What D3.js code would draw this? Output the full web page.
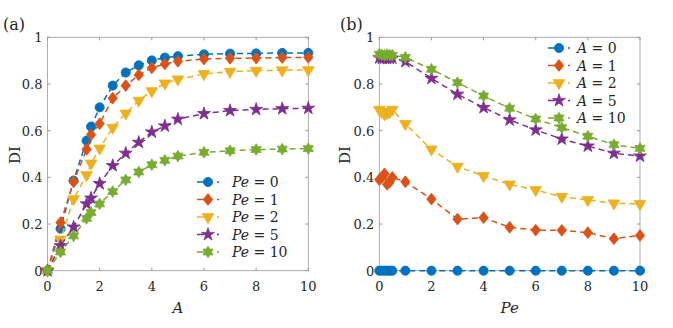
<!DOCTYPE html>
<html>
<head>
<meta charset="utf-8">
<script src="https://cdn.jsdelivr.net/npm/d3@7"></script>
<style>
  body { margin: 0; background: #fff; }
  text { font-family: "DejaVu Serif", serif; fill: #262626; }
</style>
</head>
<body>
<svg id="chart" width="673" height="328"></svg>
<script>
// ---- data ----
const aX = [0, 0.5, 1, 1.5, 1.67, 2, 2.5, 3, 3.5, 4, 4.5, 5, 6, 7, 8, 9, 10];
const diPe0  = [0, 0.18, 0.386, 0.557, 0.617, 0.70, 0.793, 0.849, 0.88, 0.901, 0.913, 0.919, 0.927, 0.93, 0.931, 0.933, 0.933];
const diPe1  = [0, 0.206, 0.381, 0.52, 0.583, 0.63, 0.739, 0.793, 0.839, 0.869, 0.886, 0.897, 0.907, 0.91, 0.911, 0.913, 0.914];
const diPe2  = [0, 0.134, 0.307, 0.41, 0.46, 0.524, 0.613, 0.674, 0.729, 0.77, 0.803, 0.82, 0.843, 0.853, 0.857, 0.859, 0.86];
const diPe5  = [0, 0.107, 0.187, 0.286, 0.311, 0.373, 0.45, 0.503, 0.55, 0.594, 0.62, 0.649, 0.673, 0.686, 0.691, 0.694, 0.696];
const diPe10 = [0, 0.08, 0.149, 0.224, 0.249, 0.286, 0.339, 0.389, 0.423, 0.454, 0.473, 0.491, 0.507, 0.514, 0.519, 0.521, 0.523];

const peX = [0, 0.1, 0.2, 0.3, 0.4, 0.5, 1, 2, 3, 4, 5, 6, 7, 8, 9, 10];
const diA0  = [0, 0, 0, 0, 0, 0, 0, 0, 0, 0, 0, 0, 0, 0, 0, 0];
const diA1  = [0.39, 0.40, 0.415, 0.37, 0.38, 0.40, 0.381, 0.307, 0.221, 0.227, 0.186, 0.174, 0.173, 0.163, 0.137, 0.151];
const diA2  = [0.69, 0.68, 0.67, 0.675, 0.68, 0.69, 0.629, 0.52, 0.446, 0.406, 0.37, 0.346, 0.317, 0.303, 0.289, 0.286];
const diA5  = [0.912, 0.91, 0.911, 0.909, 0.91, 0.911, 0.896, 0.824, 0.756, 0.699, 0.646, 0.603, 0.564, 0.534, 0.503, 0.491];
const diA10 = [0.928, 0.925, 0.923, 0.926, 0.924, 0.923, 0.914, 0.863, 0.806, 0.749, 0.696, 0.65, 0.613, 0.576, 0.54, 0.524];

const labelsA = ["0", "1", "2", "5", "10"];   // legend values, panel (b)
const labelsPe = ["0", "1", "2", "5", "10"];  // legend values, panel (a)
const xTicks = [0, 2, 4, 6, 8, 10];
const yTicks = [0, 0.2, 0.4, 0.6, 0.8, 1];

// MATLAB default colours
const colors = ["#0072BD", "#D95319", "#EDB120", "#7E2F8E", "#77AC30"];

// six pointed star, like MATLAB's hexagram
const symbolHexagram = {
  draw(context, size) {
    var r = Math.sqrt(size) * 0.66, ri = r / Math.sqrt(3);
    for (var k = 0; k < 12; k++) {
      var ang = -Math.PI / 2 + k * Math.PI / 6;
      var rr = (k % 2 == 0) ? r : ri;
      var px = rr * Math.cos(ang), py = rr * Math.sin(ang);
      if (k == 0) context.moveTo(px, py); else context.lineTo(px, py);
    }
    context.closePath();
  }
};
// MATLAB diamond is only a little taller than wide
const symbolDiamond2 = {
  draw(context, size) {
    var w = Math.sqrt(size) * 0.6, h = w * 1.25;
    context.moveTo(0, -h); context.lineTo(w, 0); context.lineTo(0, h); context.lineTo(-w, 0);
    context.closePath();
  }
};
const markers = [
  { type: d3.symbolCircle, size: 66, rot: 0 },
  { type: symbolDiamond2, size: 62, rot: 0 },
  { type: d3.symbolTriangle, size: 58, rot: 180 },
  { type: d3.symbolStar, size: 52, rot: 0 },
  { type: symbolHexagram, size: 78, rot: 0 }
];

const svg = d3.select("#chart");

function panel(cfg) {
  var x = d3.scaleLinear().domain([0, 10]).range([cfg.left, cfg.right]);
  var y = d3.scaleLinear().domain([0, 1]).range([270.7, 37.3]);
  var g = svg.append("g");

  // box
  g.append("rect")
    .attr("x", x(0)).attr("y", y(1))
    .attr("width", x(10) - x(0)).attr("height", y(0) - y(1))
    .attr("fill", "none").attr("stroke", "#999").attr("stroke-width", 0.8);

  // inward ticks on all 4 sides
  xTicks.forEach(t => {
    g.append("line").attr("x1", x(t)).attr("x2", x(t)).attr("y1", y(0)).attr("y2", y(0) - 3).attr("stroke", "#999");
    g.append("line").attr("x1", x(t)).attr("x2", x(t)).attr("y1", y(1)).attr("y2", y(1) + 3).attr("stroke", "#999");
    g.append("text").attr("x", x(t)).attr("y", 291).attr("text-anchor", "middle")
      .style("font-size", "13px").text(d3.format("")(t));
  });
  yTicks.forEach(t => {
    g.append("line").attr("x1", x(0)).attr("x2", x(0) + 3).attr("y1", y(t)).attr("y2", y(t)).attr("stroke", "#999");
    g.append("line").attr("x1", x(10)).attr("x2", x(10) - 3).attr("y1", y(t)).attr("y2", y(t)).attr("stroke", "#999");
    g.append("text").attr("x", x(0) - 5).attr("y", y(t) + 5).attr("text-anchor", "end")
      .style("font-size", "13px").text(t == 0 ? "0" : t == 1 ? "1" : d3.format(".1f")(t));
  });

  // series
  var line = d3.line().x(d => x(d[0])).y(d => y(d[1]));
  cfg.series.forEach((vals, i) => {
    var pts = cfg.xs.map((v, j) => [v, vals[j]]);
    g.append("path").datum(pts).attr("d", line)
      .attr("fill", "none").attr("stroke", colors[i])
      .attr("stroke-width", 1.5).attr("stroke-dasharray", "6,4");
    var m = markers[i];
    g.selectAll(".m" + i).data(pts).enter().append("path")
      .attr("d", d3.symbol().type(m.type).size(m.size))
      .attr("transform", d => "translate(" + x(d[0]) + "," + y(d[1]) + ") rotate(" + m.rot + ")")
      .attr("fill", colors[i]).attr("stroke", colors[i]).attr("stroke-width", 0.8);
  });

  // legend: dash, marker, dot
  cfg.legendLabels.forEach((lab, i) => {
    var ly = cfg.legY + i * 17.5;
    g.append("line").attr("x1", cfg.legX).attr("x2", cfg.legX + 22).attr("y1", ly).attr("y2", ly)
      .attr("stroke", colors[i]).attr("stroke-width", 1.5).attr("stroke-dasharray", "7,13,2,10");
    var m = markers[i];
    g.append("path").attr("d", d3.symbol().type(m.type).size(m.size))
      .attr("transform", "translate(" + (cfg.legX + 11) + "," + ly + ") rotate(" + m.rot + ")")
      .attr("fill", colors[i]).attr("stroke", colors[i]).attr("stroke-width", 0.8);
    var t = g.append("text").attr("x", cfg.legX + cfg.legTextDx).attr("y", ly + 5).style("font-size", "14px");
    t.append("tspan").style("font-style", "italic").text(cfg.legVar);
    t.append("tspan").text(" = " + lab);
  });

  // axis labels
  g.append("text").attr("x", (x(0) + x(10)) / 2).attr("y", 313).attr("text-anchor", "middle")
    .style("font-size", "15px").style("font-style", "italic").text(cfg.xLabel);
  g.append("text").attr("transform", "translate(" + cfg.yLabX + ",155) rotate(-90)")
    .attr("text-anchor", "middle").style("font-size", "15px").text("DI");
  g.append("text").attr("x", cfg.tagX).attr("y", 30).style("font-size", "16px").text(cfg.tag);
}

panel({
  left: 47.5, right: 308.3, xs: aX,
  series: [diPe0, diPe1, diPe2, diPe5, diPe10],
  legendLabels: labelsPe, legVar: "Pe", legX: 197, legY: 182, legTextDx: 35,
  xLabel: "A", yLabX: 20, tag: "(a)", tagX: 3
});
panel({
  left: 379.3, right: 640, xs: peX,
  series: [diA0, diA1, diA2, diA5, diA10],
  legendLabels: labelsA, legVar: "A", legX: 548, legY: 48, legTextDx: 29,
  xLabel: "Pe", yLabX: 350, tag: "(b)", tagX: 340
});
</script>
</body>
</html>
